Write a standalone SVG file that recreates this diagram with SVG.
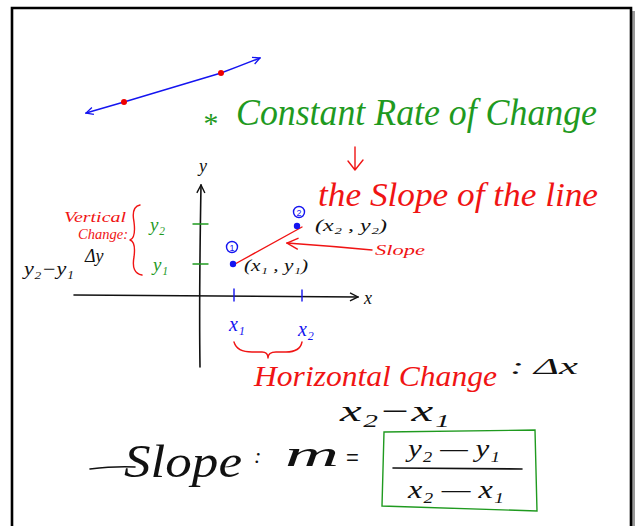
<svg xmlns="http://www.w3.org/2000/svg" width="640" height="526" viewBox="0 0 640 526">
<style>
.hw{font-family:"Liberation Serif","DejaVu Serif",serif;font-style:italic}
.g{fill:#1f9a1f}.r{fill:#f01414}.b{fill:#1414f0}.k{fill:#111}
.sk{fill:none;stroke:#111;stroke-width:1.6;stroke-linecap:round}
.sr{fill:none;stroke:#f01414;stroke-width:1.4;stroke-linecap:round;stroke-linejoin:round}
.sb{fill:none;stroke:#1414f0;stroke-width:1.4;stroke-linecap:round}
.sg{fill:none;stroke:#1f9a1f;stroke-width:1.4;stroke-linecap:round}
</style>
<defs>
<marker id="ab" viewBox="0 0 10 10" refX="9" refY="5" markerWidth="9" markerHeight="9" orient="auto-start-reverse" markerUnits="userSpaceOnUse"><path d="M1,1 L9,5 L1,9" fill="none" stroke="#1414f0" stroke-width="1.4"/></marker>
<marker id="ak" viewBox="0 0 10 10" refX="9" refY="5" markerWidth="10" markerHeight="10" orient="auto" markerUnits="userSpaceOnUse"><path d="M1,1 L9,5 L1,9" fill="none" stroke="#111" stroke-width="1.4"/></marker>
<marker id="ar" viewBox="0 0 10 10" refX="9" refY="5" markerWidth="14" markerHeight="14" orient="auto" markerUnits="userSpaceOnUse"><path d="M1,1 L9,5 L1,9" fill="none" stroke="#f01414" stroke-width="1"/></marker>
</defs>
<rect width="640" height="526" fill="#fff"/>
<g id="frame">
<path d="M633,11 V526" stroke="#999" stroke-width="4" fill="none"/>
<path d="M12,526 V8 H631 V526" stroke="#000" stroke-width="2.6" fill="none"/>
</g>
<g id="line">
<path d="M86,113 Q110,106 124,102 L221,73 Q240,66 260,58" class="sb" marker-start="url(#ab)" marker-end="url(#ab)"/>
<circle cx="124" cy="102" r="3" fill="#e00"/>
<circle cx="221" cy="73" r="3" fill="#e00"/>
</g>
<g id="title">
<text x="202" y="133" class="hw g" font-size="30">*</text>
<text x="236" y="125" class="hw g" font-size="38" textLength="361" lengthAdjust="spacingAndGlyphs">Constant Rate of Change</text>
</g>
<g id="connectors">
<path d="M355,147 V170 M348,161 L355,170 L363,160" class="sr"/>
<path d="M372,250 Q330,246 287,243" class="sr" marker-end="url(#ar)"/>
<path d="M235,264 L302,227" class="sr"/>
</g>
<g id="slopeline">
<text x="318" y="206" class="hw r" font-size="34" textLength="280" lengthAdjust="spacingAndGlyphs">the Slope of the line</text>
</g>
<g id="axes">
<path d="M200,367 Q199,300 201,185" class="sk" marker-end="url(#ak)"/>
<path d="M74,295 L358,297" class="sk" marker-end="url(#ak)"/>
<text x="199" y="172" class="hw k" font-size="18">y</text>
<text x="364" y="304" class="hw k" font-size="18">x</text>
<path d="M193,224 H208 M193,264 H208" class="sg"/>
<path d="M234,289 V301 M302,290 V301" class="sb"/>
</g>
<g id="ylabels">
<text x="150" y="231" class="hw g" font-size="19">y₂</text>
<text x="153" y="271" class="hw g" font-size="19">y₁</text>
<path d="M140,205 Q131,207 134,222 Q136,238 130,240 Q136,242 134,257 Q131,273 142,275" class="sr"/>
<text x="64" y="222" class="hw r" font-size="15" textLength="62" lengthAdjust="spacingAndGlyphs">Vertical</text>
<text x="78" y="239" class="hw r" font-size="14" textLength="50" lengthAdjust="spacingAndGlyphs">Change:</text>
<text x="85" y="262" class="hw k" font-size="18">Δy</text>
<text x="24" y="275" class="hw k" font-size="18" textLength="50" lengthAdjust="spacingAndGlyphs">y₂−y₁</text>
</g>
<g id="xlabels">
<text x="229" y="331" class="hw b" font-size="20">x₁</text>
<text x="298" y="336" class="hw b" font-size="20">x₂</text>
<path d="M234,342 Q237,352 252,352 L262,352 Q268,352 268,358 Q268,352 276,352 L286,352 Q300,352 302,342" class="sr"/>
</g>
<g id="point1">
<circle cx="233" cy="264" r="3.2" fill="#1414f0"/>
<circle cx="232" cy="247" r="5.5" class="sb" stroke-width="1"/>
<text x="232" y="251" class="b" font-family="Liberation Sans,sans-serif" font-size="9" text-anchor="middle">1</text>
<text x="244" y="271" class="hw k" font-size="17" textLength="64" lengthAdjust="spacingAndGlyphs">(x₁ , y₁)</text>
</g>
<g id="point2">
<circle cx="297" cy="226" r="3.2" fill="#1414f0"/>
<circle cx="299" cy="212" r="5.5" class="sb" stroke-width="1"/>
<text x="299" y="216" class="b" font-family="Liberation Sans,sans-serif" font-size="9" text-anchor="middle">2</text>
<text x="315" y="231" class="hw k" font-size="17" textLength="72" lengthAdjust="spacingAndGlyphs">(x₂ , y₂)</text>
</g>
<g id="slopelabel">
<text x="375" y="255" class="hw r" font-size="14" textLength="50" lengthAdjust="spacingAndGlyphs">Slope</text>
</g>
<g id="horizontal">
<text x="254" y="386" class="hw r" font-size="30" textLength="243" lengthAdjust="spacingAndGlyphs">Horizontal Change</text>
<text x="510" y="374" class="hw k" font-size="23" textLength="68" lengthAdjust="spacingAndGlyphs">: Δx</text>
<text x="340" y="421" class="hw k" font-size="30" textLength="110" lengthAdjust="spacingAndGlyphs">x₂−x₁</text>
</g>
<g id="formula">
<path d="M90,469 Q115,466 135,467" class="sk" stroke-width="1.2"/>
<text x="124" y="477" class="hw k" font-size="46" textLength="118" lengthAdjust="spacingAndGlyphs">Slope</text>
<text x="254" y="463" class="hw k" font-size="22">:</text>
<text x="285" y="466" class="hw k" font-size="36" textLength="54" lengthAdjust="spacingAndGlyphs">m</text>
<text x="346" y="465" class="k" font-family="Liberation Sans,sans-serif" font-size="22">=</text>
<path d="M384,432 L535,430 L537,511 L382,506 Z" class="sg" stroke-width="1.2"/>
<path d="M393,468 L522,469" class="sk" stroke-width="1.2"/>
<text x="408" y="457" class="hw k" font-size="26" textLength="92" lengthAdjust="spacingAndGlyphs">y₂ — y₁</text>
<text x="408" y="498" class="hw k" font-size="26" textLength="96" lengthAdjust="spacingAndGlyphs">x₂ — x₁</text>
</g>
</svg>
